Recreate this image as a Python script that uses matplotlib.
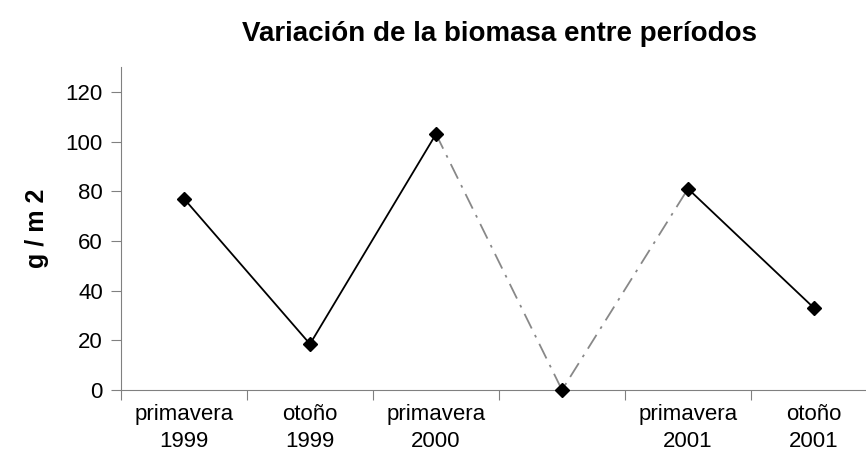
import matplotlib.pyplot as plt

# Biomasa por periodo (g/m2)
periodos = ['primavera\n1999', 'otoño\n1999', 'primavera\n2000', '', 'primavera\n2001', 'otoño\n2001']
biomasa = [77, 18.5, 103, 0, 81, 33]

plt.rcParams['font.family'] = ['Liberation Sans', 'DejaVu Sans']

fig = plt.figure(figsize=(8.66, 4.65), dpi=100)
ax = fig.add_axes([121 / 866, 75 / 465, 756 / 866, 323 / 465])

x = list(range(len(periodos)))

# tramos continuos y tramo punteado gris
ax.plot(x[0:3], biomasa[0:3], color='black', lw=1.3)
ax.plot(x[2:5], biomasa[2:5], color='#888888', lw=1.3, dashes=(9, 4, 1.5, 4))
ax.plot(x[4:6], biomasa[4:6], color='black', lw=1.3)
ax.plot(x, biomasa, ls='none', marker='D', color='black', ms=7, clip_on=False, zorder=5)

ax.set_xlim(-0.5, len(periodos) - 0.5)
ax.set_ylim(0, 130)
ax.set_yticks(range(0, 121, 20))

ax.set_xticks([i - 0.5 for i in range(len(periodos))])
ax.set_xticklabels([])
ax.set_xticks(x, minor=True)
ax.set_xticklabels(periodos, minor=True, fontsize=16, linespacing=1.4)
ax.tick_params(axis='x', which='major', direction='out', length=7, color='#808080')
ax.tick_params(axis='x', which='minor', length=0, pad=10)
ax.tick_params(axis='y', direction='out', length=7, color='#808080', labelsize=16, pad=6)

for s in ['top', 'right']:
    ax.spines[s].set_visible(False)
for s in ['left', 'bottom']:
    ax.spines[s].set_color('#808080')

ax.set_ylabel('g / m 2', fontsize=18, fontweight='bold', labelpad=12)
fig.text(500 / 866, 1 - 34 / 465, 'Variación de la biomasa entre períodos',
         ha='center', va='center', fontsize=20, fontweight='bold')

fig.savefig('out.png')
